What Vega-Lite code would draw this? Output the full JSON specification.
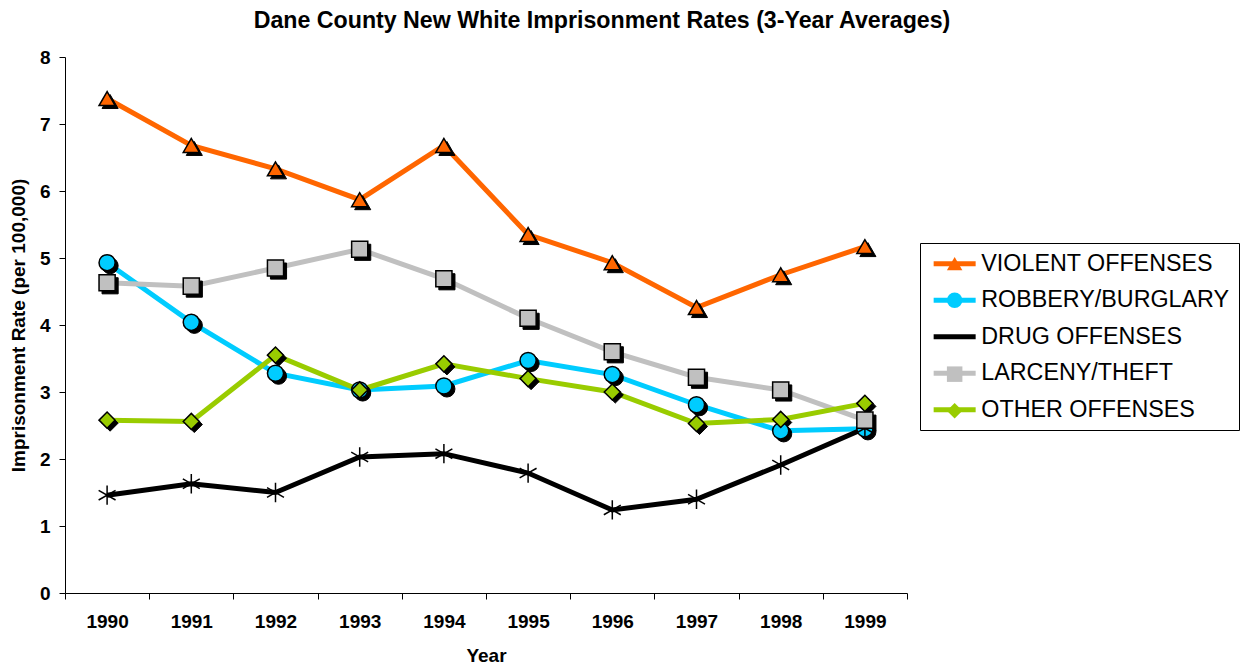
{
  "$schema": "https://vega.github.io/schema/vega-lite/v6.json",
  "width": 842,
  "height": 536,
  "autosize": "none",
  "padding": {"left": 65, "top": 57, "right": 336, "bottom": 74},
  "background": "white",
  "config": {
    "view": {"stroke": null},
    "font": "Liberation Sans",
    "axis": {
      "domainColor": "black",
      "tickColor": "black",
      "labelColor": "black",
      "titleColor": "black",
      "labelFont": "Liberation Sans",
      "titleFont": "Liberation Sans",
      "labelFontWeight": "bold",
      "titleFontWeight": "bold",
      "labelFontSize": 19,
      "titleFontSize": 19,
      "grid": false,
      "tickSize": 6,
      "domainWidth": 1,
      "tickWidth": 1
    }
  },
  "title": {
    "text": "Dane County New White Imprisonment Rates (3-Year Averages)",
    "font": "Liberation Sans",
    "fontSize": 23.2,
    "fontWeight": "bold",
    "color": "black",
    "anchor": "middle",
    "dx": 116,
    "offset": 15
  },
  "data": {
    "values": [
      {"year": "1990", "series": "VIOLENT OFFENSES", "rate": 7.38},
      {"year": "1991", "series": "VIOLENT OFFENSES", "rate": 6.68},
      {"year": "1992", "series": "VIOLENT OFFENSES", "rate": 6.33},
      {"year": "1993", "series": "VIOLENT OFFENSES", "rate": 5.87},
      {"year": "1994", "series": "VIOLENT OFFENSES", "rate": 6.68},
      {"year": "1995", "series": "VIOLENT OFFENSES", "rate": 5.35},
      {"year": "1996", "series": "VIOLENT OFFENSES", "rate": 4.93},
      {"year": "1997", "series": "VIOLENT OFFENSES", "rate": 4.26},
      {"year": "1998", "series": "VIOLENT OFFENSES", "rate": 4.75},
      {"year": "1999", "series": "VIOLENT OFFENSES", "rate": 5.17},
      {"year": "1990", "series": "ROBBERY/BURGLARY", "rate": 4.93},
      {"year": "1991", "series": "ROBBERY/BURGLARY", "rate": 4.04},
      {"year": "1992", "series": "ROBBERY/BURGLARY", "rate": 3.28},
      {"year": "1993", "series": "ROBBERY/BURGLARY", "rate": 3.03},
      {"year": "1994", "series": "ROBBERY/BURGLARY", "rate": 3.09},
      {"year": "1995", "series": "ROBBERY/BURGLARY", "rate": 3.47},
      {"year": "1996", "series": "ROBBERY/BURGLARY", "rate": 3.26},
      {"year": "1997", "series": "ROBBERY/BURGLARY", "rate": 2.81},
      {"year": "1998", "series": "ROBBERY/BURGLARY", "rate": 2.42},
      {"year": "1999", "series": "ROBBERY/BURGLARY", "rate": 2.45},
      {"year": "1990", "series": "DRUG OFFENSES", "rate": 1.46},
      {"year": "1991", "series": "DRUG OFFENSES", "rate": 1.63},
      {"year": "1992", "series": "DRUG OFFENSES", "rate": 1.5},
      {"year": "1993", "series": "DRUG OFFENSES", "rate": 2.03},
      {"year": "1994", "series": "DRUG OFFENSES", "rate": 2.08},
      {"year": "1995", "series": "DRUG OFFENSES", "rate": 1.79},
      {"year": "1996", "series": "DRUG OFFENSES", "rate": 1.24},
      {"year": "1997", "series": "DRUG OFFENSES", "rate": 1.4},
      {"year": "1998", "series": "DRUG OFFENSES", "rate": 1.91},
      {"year": "1999", "series": "DRUG OFFENSES", "rate": 2.46},
      {"year": "1990", "series": "LARCENY/THEFT", "rate": 4.63},
      {"year": "1991", "series": "LARCENY/THEFT", "rate": 4.58},
      {"year": "1992", "series": "LARCENY/THEFT", "rate": 4.85},
      {"year": "1993", "series": "LARCENY/THEFT", "rate": 5.13},
      {"year": "1994", "series": "LARCENY/THEFT", "rate": 4.69},
      {"year": "1995", "series": "LARCENY/THEFT", "rate": 4.1},
      {"year": "1996", "series": "LARCENY/THEFT", "rate": 3.6},
      {"year": "1997", "series": "LARCENY/THEFT", "rate": 3.22},
      {"year": "1998", "series": "LARCENY/THEFT", "rate": 3.03},
      {"year": "1999", "series": "LARCENY/THEFT", "rate": 2.58},
      {"year": "1990", "series": "OTHER OFFENSES", "rate": 2.58},
      {"year": "1991", "series": "OTHER OFFENSES", "rate": 2.56},
      {"year": "1992", "series": "OTHER OFFENSES", "rate": 3.55},
      {"year": "1993", "series": "OTHER OFFENSES", "rate": 3.03},
      {"year": "1994", "series": "OTHER OFFENSES", "rate": 3.42},
      {"year": "1995", "series": "OTHER OFFENSES", "rate": 3.2},
      {"year": "1996", "series": "OTHER OFFENSES", "rate": 3.0},
      {"year": "1997", "series": "OTHER OFFENSES", "rate": 2.53},
      {"year": "1998", "series": "OTHER OFFENSES", "rate": 2.59},
      {"year": "1999", "series": "OTHER OFFENSES", "rate": 2.83}
    ]
  },
  "encoding": {
    "x": {
      "field": "year",
      "type": "ordinal",
      "scale": {"type": "band", "paddingInner": 0, "paddingOuter": 0},
      "axis": {
        "title": "Year",
        "labelAngle": 0,
        "tickBand": "extent",
        "labelPadding": 13,
        "titlePadding": 15
      }
    },
    "y": {
      "field": "rate",
      "type": "quantitative",
      "scale": {"domain": [0, 8], "nice": false},
      "axis": {
        "title": "Imprisonment Rate (per 100,000)",
        "values": [0, 1, 2, 3, 4, 5, 6, 7, 8],
        "labelPadding": 9,
        "titlePadding": 11
      }
    }
  },
  "layer": [
    {
      "mark": {"type": "line"},
      "encoding": {
        "stroke": {
          "field": "series",
          "type": "nominal",
          "scale": {
            "domain": ["VIOLENT OFFENSES", "ROBBERY/BURGLARY", "DRUG OFFENSES", "LARCENY/THEFT", "OTHER OFFENSES"],
            "range": ["#FF6600", "#00CCFF", "#000000", "#C0C0C0", "#99CC00"]
          },
          "legend": {
            "title": null,
            "orient": "none",
            "legendX": 855,
            "legendY": 186,
            "symbolType": "M-2.625,0H2.625",
            "symbolSize": 256,
            "symbolOffset": 14,
            "labelFontSize": 23.3,
            "labelFont": "Liberation Sans",
            "labelColor": "black",
            "labelLimit": 0,
            "labelOffset": 15,
            "padding": 9,
            "rowPadding": 12.5,
            "strokeColor": "black",
            "fillColor": "white"
          }
        },
        "strokeWidth": {
          "field": "series",
          "type": "nominal",
          "scale": {
            "domain": ["VIOLENT OFFENSES", "ROBBERY/BURGLARY", "DRUG OFFENSES", "LARCENY/THEFT", "OTHER OFFENSES"],
            "range": [5, 5, 3, 3, 5]
          },
          "legend": {
            "title": null,
            "orient": "none",
            "legendX": 855,
            "legendY": 186,
            "symbolType": "M-2.625,0H2.625",
            "symbolSize": 256,
            "symbolOffset": 14,
            "labelFontSize": 23.3,
            "labelFont": "Liberation Sans",
            "labelColor": "black",
            "labelLimit": 0,
            "labelOffset": 15,
            "padding": 9,
            "rowPadding": 12.5,
            "strokeColor": "black",
            "fillColor": "white"
          }
        }
      }
    },
    {
      "transform": [{"filter": "datum.series !== 'DRUG OFFENSES'"}],
      "mark": {"type": "point", "filled": true, "fill": "black", "stroke": "black", "strokeWidth": 1, "size": 260, "opacity": 1, "xOffset": 3, "yOffset": 3},
      "encoding": {
        "shape": {
          "field": "series",
          "type": "nominal",
          "scale": {
            "domain": ["VIOLENT OFFENSES", "ROBBERY/BURGLARY", "DRUG OFFENSES", "LARCENY/THEFT", "OTHER OFFENSES"],
            "range": ["triangle-up", "circle", "M-1.05,-0.6L1.05,0.6M-1.05,0.6L1.05,-0.6M0,-1.2V1.2", "square", "diamond"]
          },
          "legend": null
        }
      }
    },
    {
      "mark": {"type": "point", "filled": true, "stroke": "black", "strokeWidth": 1.5, "size": 260, "opacity": 1},
      "encoding": {
        "shape": {
          "field": "series",
          "type": "nominal",
          "scale": {
            "domain": ["VIOLENT OFFENSES", "ROBBERY/BURGLARY", "DRUG OFFENSES", "LARCENY/THEFT", "OTHER OFFENSES"],
            "range": ["triangle-up", "circle", "M-1.05,-0.6L1.05,0.6M-1.05,0.6L1.05,-0.6M0,-1.2V1.2", "square", "diamond"]
          },
          "legend": {
            "title": null,
            "orient": "none",
            "legendX": 855,
            "legendY": 186,
            "symbolSize": 240,
            "symbolStrokeColor": "black",
            "symbolStrokeWidth": 1.5,
            "symbolOffset": 14,
            "labelFontSize": 23.3,
            "labelFont": "Liberation Sans",
            "labelLimit": 0,
            "labelOpacity": 0,
            "labelOffset": 15,
            "padding": 9,
            "rowPadding": 12.5
          }
        },
        "fill": {
          "field": "series",
          "type": "nominal",
          "scale": {
            "domain": ["VIOLENT OFFENSES", "ROBBERY/BURGLARY", "DRUG OFFENSES", "LARCENY/THEFT", "OTHER OFFENSES"],
            "range": ["#FF6600", "#00CCFF", "#000000", "#C0C0C0", "#99CC00"]
          },
          "legend": {
            "title": null,
            "orient": "none",
            "legendX": 855,
            "legendY": 186,
            "symbolSize": 240,
            "symbolStrokeColor": "black",
            "symbolStrokeWidth": 1.5,
            "symbolOffset": 14,
            "labelFontSize": 23.3,
            "labelFont": "Liberation Sans",
            "labelLimit": 0,
            "labelOpacity": 0,
            "labelOffset": 15,
            "padding": 9,
            "rowPadding": 12.5
          }
        }
      }
    }
  ],
  "resolve": {
    "legend": {"stroke": "independent", "strokeWidth": "independent", "shape": "independent", "fill": "independent"}
  }
}
